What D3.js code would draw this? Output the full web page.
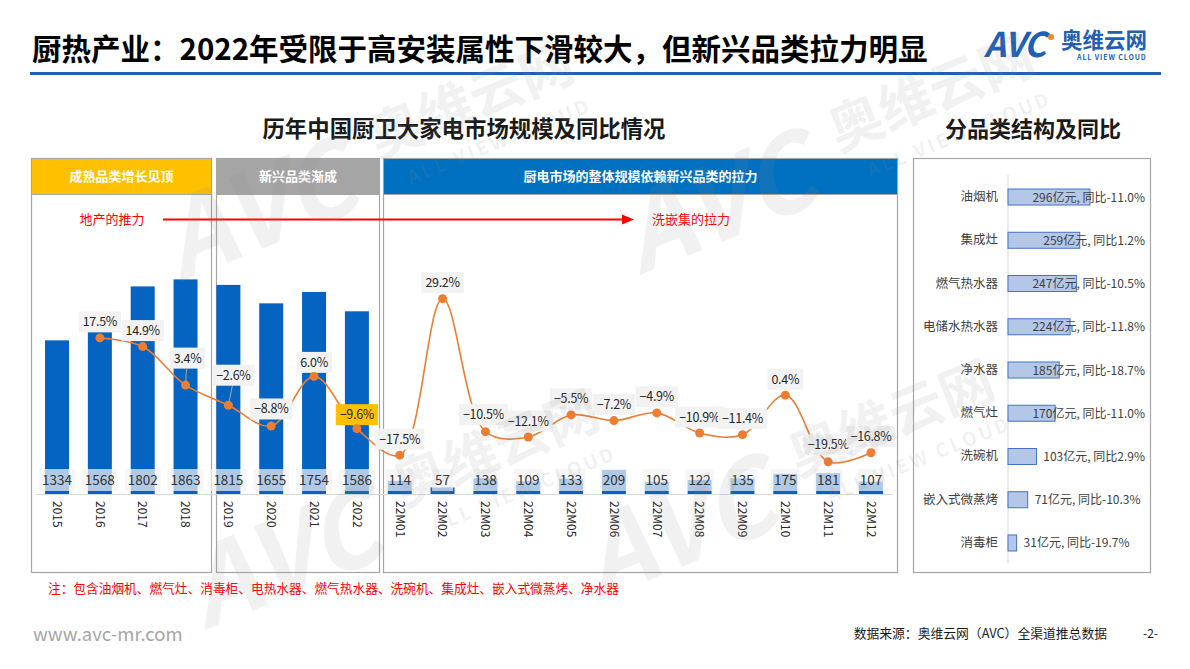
<!DOCTYPE html>
<html>
<head>
<meta charset="utf-8">
<script src="https://cdn.jsdelivr.net/npm/d3@7/dist/d3.min.js"></script>
<style>
  html, body { margin: 0; padding: 0; background: #fff; }
  svg { display: block; }
  text { font-family: "Noto Sans CJK SC", "Noto Sans", sans-serif; }
</style>
</head>
<body>
<svg id="chart" width="1190" height="669"></svg>
<script>
// ---------------- DATA ----------------
const categories = ["2015","2016","2017","2018","2019","2020","2021","2022",
  "22M01","22M02","22M03","22M04","22M05","22M06","22M07","22M08","22M09","22M10","22M11","22M12"];
const marketSize = [1334,1568,1802,1863,1815,1655,1754,1586,
  114,57,138,109,133,209,105,122,135,175,181,107];
const growthRate = [null,17.5,14.9,3.4,-2.6,-8.8,6.0,-9.6,
  -17.5,29.2,-10.5,-12.1,-5.5,-7.2,-4.9,-10.9,-11.4,0.4,-19.5,-16.8];

const productCategories = ["油烟机","集成灶","燃气热水器","电储水热水器","净水器","燃气灶","洗碗机","嵌入式微蒸烤","消毒柜"];
const productSize = [296,259,247,224,185,170,103,71,31];
const productGrowth = [-11.0,1.2,-10.5,-11.8,-18.7,-11.0,2.9,-10.3,-19.7];

const panelHeaders = ["成熟品类增长见顶","新兴品类渐成","厨电市场的整体规模依赖新兴品类的拉力"];
const noteText = "注：包含油烟机、燃气灶、消毒柜、电热水器、燃气热水器、洗碗机、集成灶、嵌入式微蒸烤、净水器";

// ---------------- DRAW ----------------
const svg = d3.select("#chart");
const BLUE = "#0563C1", ORANGE = "#ED7D31";

// Watermarks (drawn first, faint)
const wmLayer = svg.append("g");

// Title
svg.append("text").attr("x", 32).attr("y", 60)
  .attr("font-size", 29.5).attr("font-weight", 700).attr("fill", "#000")
  .text("厨热产业：2022年受限于高安装属性下滑较大，但新兴品类拉力明显");
svg.append("rect").attr("x", 30).attr("y", 72).attr("width", 1131).attr("height", 3).attr("fill", "#1F5FB4");

// Logo
const logo = svg.append("g");
logo.append("text").attr("x", 984).attr("y", 57).attr("font-family", "Liberation Sans, Arial")
  .attr("font-size", 34).attr("font-weight", 700).attr("font-style", "italic")
  .attr("fill", "#1F5FB4").attr("letter-spacing", -1).text("AVC");
logo.append("circle").attr("cx", 1051).attr("cy", 37).attr("r", 3).attr("fill", "#F08A24");
logo.append("text").attr("x", 1061).attr("y", 48).attr("font-size", 21.5).attr("font-weight", 700)
  .attr("fill", "#1F5FB4").text("奥维云网");
logo.append("text").attr("x", 1077).attr("y", 60).attr("font-size", 7).attr("font-weight", 700)
  .attr("fill", "#1F5FB4").attr("letter-spacing", 0.9).attr("font-family", "Liberation Sans, Arial")
  .text("ALL VIEW CLOUD");

// Chart titles
svg.append("text").attr("x", 464).attr("y", 137).attr("text-anchor", "middle")
  .attr("font-size", 22.4).attr("font-weight", 700).attr("fill", "#1a1a1a").text("历年中国厨卫大家电市场规模及同比情况");
svg.append("text").attr("x", 1033).attr("y", 137).attr("text-anchor", "middle")
  .attr("font-size", 22).attr("font-weight", 700).attr("fill", "#1a1a1a").text("分品类结构及同比");

// Panels
const panels = [
  {x0: 31.5, x1: 211.5, fill: "#FFC000"},
  {x0: 216.5, x1: 379.5, fill: "#A5A5A5"},
  {x0: 383.5, x1: 897.5, fill: "#0070C0"}
];
panels.forEach((p, i) => {
  svg.append("rect").attr("x", p.x0).attr("y", 158.5).attr("width", p.x1 - p.x0).attr("height", 414)
    .attr("fill", "none").attr("stroke", "#A6A6A6").attr("stroke-width", 1.2);
  svg.append("rect").attr("x", p.x0).attr("y", 158.5).attr("width", p.x1 - p.x0).attr("height", 36)
    .attr("fill", p.fill).attr("stroke", "#A6A6A6").attr("stroke-width", 1);
  svg.append("text").attr("x", (p.x0 + p.x1) / 2).attr("y", 181).attr("text-anchor", "middle")
    .attr("font-size", 13).attr("font-weight", 700).attr("fill", "#fff").text(panelHeaders[i]);
});
svg.append("rect").attr("x", 913.5).attr("y", 158.5).attr("width", 237).attr("height", 414)
  .attr("fill", "none").attr("stroke", "#A6A6A6").attr("stroke-width", 1.2);

// Scales for main chart
const x = d3.scaleBand().domain(categories).range([35.6, 892.4]).paddingInner(0.44).paddingOuter(0.22);
const yBar = d3.scaleLinear().domain([0, 2000]).range([494, 263.6]);
const yPct = d3.scaleLinear().domain([-20, 30]).range([463.5, 296]);
const cx = d => x(d) + x.bandwidth() / 2;

const rows = categories.map((c, i) => ({c, v: marketSize[i], g: growthRate[i]}));

// Bars
svg.append("g").selectAll("rect").data(rows).join("rect")
  .attr("x", d => x(d.c)).attr("width", x.bandwidth())
  .attr("y", d => yBar(d.v)).attr("height", d => yBar(0) - yBar(d.v))
  .attr("fill", BLUE);

// Axis
const xAxis = d3.axisBottom(x).tickSize(0).tickPadding(0);
const ax = svg.append("g").attr("transform", `translate(0,${yBar(0)})`).call(xAxis);
ax.select(".domain").attr("stroke", "#D9D9D9").attr("stroke-width", 1.2);
ax.selectAll(".tick text")
  .attr("transform", "rotate(90)").attr("x", 7).attr("y", 0).attr("dy", "0.35em")
  .attr("text-anchor", "start").attr("font-size", 12)
  .attr("font-family", "Liberation Sans, Arial").attr("fill", "#262626");

// Bar value labels
const valG = svg.append("g");
rows.forEach(d => {
  const t = valG.append("text").attr("x", cx(d.c)).attr("y", 485)
    .attr("text-anchor", "middle").attr("font-size", 13.5).attr("font-family", "Liberation Sans, Arial")
    .attr("fill", "#333").text(d.v);
  const w = t.node().getComputedTextLength();
  valG.insert("rect", "text").attr("x", cx(d.c) - w / 2 - 3).attr("y", 469).attr("width", w + 6).attr("height", 22)
    .attr("fill", "#F2F2F2").attr("fill-opacity", 0.72);
});

// Red arrow and annotations
svg.append("line").attr("x1", 163).attr("x2", 624).attr("y1", 219.5).attr("y2", 219.5)
  .attr("stroke", "#FF0000").attr("stroke-width", 2);
svg.append("path").attr("d", "M622,214.5 L634,219.5 L622,224.5 Z").attr("fill", "#FF0000");
svg.append("text").attr("x", 112).attr("y", 224).attr("text-anchor", "middle")
  .attr("font-size", 13).attr("fill", "#FF0000").text("地产的推力");
svg.append("text").attr("x", 652).attr("y", 224)
  .attr("font-size", 13).attr("fill", "#FF0000").text("洗嵌集的拉力");

// Growth line
const line = d3.line().defined(d => d.g !== null)
  .x(d => cx(d.c)).y(d => yPct(d.g)).curve(d3.curveCatmullRom.alpha(0.5));
svg.append("path").datum(rows).attr("d", line)
  .attr("fill", "none").attr("stroke", ORANGE).attr("stroke-width", 1.6);

const pts = rows.filter(d => d.g !== null);
// label layout adjustments (not data)
const labelShift = {"2018": [2, -27], "2019": [5, -30], "2021": [0, -14], "2022": [0, -14], "2020": [0, -17], "22M03": [-2, -17], "22M11": [0, -17]};
const pctG = svg.append("g");
pts.forEach(d => {
  const [dx, dy] = labelShift[d.c] || [0, -16];
  const lx = cx(d.c) + dx, ly = yPct(d.g) + dy;
  const g = pctG.append("g");
  const t = g.append("text").attr("x", lx).attr("y", ly + 4.5).attr("text-anchor", "middle")
    .attr("font-size", 12.5).attr("font-family", "DejaVu Sans Mono, monospace").attr("fill", "#262626")
    .attr("letter-spacing", -0.3)
    .text(d.g.toFixed(1).replace("-", "−") + "%");
  const w = t.node().getComputedTextLength();
  g.insert("rect", "text").attr("x", lx - w / 2 - 4).attr("y", ly - 10.5).attr("width", w + 8).attr("height", 21)
    .attr("fill", d.c === "2022" ? "#FFC000" : "#F2F2F2");
  if (dy < -20) {
    pctG.insert("line", "g").attr("x1", lx - 1).attr("y1", ly + 10.5).attr("x2", cx(d.c)).attr("y2", yPct(d.g))
      .attr("stroke", "#A6A6A6").attr("stroke-width", 1);
  }
});
svg.append("g").selectAll("circle").data(pts).join("circle")
  .attr("cx", d => cx(d.c)).attr("cy", d => yPct(d.g)).attr("r", 4.5).attr("fill", ORANGE);

// ---------------- Right chart ----------------
const yH = d3.scaleBand().domain(productCategories).range([175.4, 564.6]).paddingInner(0.63).paddingOuter(0.315);
const xH = d3.scaleLinear().domain([0, 296]).range([1008, 1090]);
const prow = productCategories.map((c, i) => ({c, v: productSize[i], g: productGrowth[i]}));

svg.append("line").attr("x1", 1008).attr("x2", 1008).attr("y1", 175).attr("y2", 563)
  .attr("stroke", "#D9D9D9").attr("stroke-width", 1);
svg.append("g").selectAll("rect").data(prow).join("rect")
  .attr("x", xH(0)).attr("y", d => yH(d.c)).attr("width", d => xH(d.v) - xH(0)).attr("height", yH.bandwidth())
  .attr("fill", "#B4C7E7").attr("stroke", "#4472C4").attr("stroke-width", 1);
const yAxisR = d3.axisLeft(yH).tickSize(0).tickPadding(10);
const ayr = svg.append("g").attr("transform", "translate(1008,0)").call(yAxisR);
ayr.select(".domain").remove();
ayr.selectAll(".tick text").attr("font-size", 12.5).attr("fill", "#404040")
  .attr("font-family", "Noto Sans CJK SC, sans-serif");

const vlG = svg.append("g");
prow.forEach(d => {
  const t = vlG.append("text").attr("y", yH(d.c) + yH.bandwidth() / 2 + 4.5)
    .attr("font-size", 12).attr("fill", "#404040")
    .text(`${d.v}亿元, 同比${d.g.toFixed(1)}%`);
  const w = t.node().getComputedTextLength();
  t.attr("x", Math.min(xH(d.v) + 7, 1145 - w));
});

// ---------------- Footer ----------------
svg.append("text").attr("x", 48).attr("y", 593).attr("font-size", 12.7).attr("fill", "#FF0000").text(noteText);
svg.append("text").attr("x", 33).attr("y", 641).attr("font-size", 18.5).attr("fill", "#A6A6A6")
  .attr("font-family", "Liberation Sans, Arial").text("www.avc-mr.com");
svg.append("text").attr("x", 1107).attr("y", 638).attr("text-anchor", "end").attr("font-size", 12.8)
  .attr("fill", "#1a1a1a").text("数据来源：奥维云网（AVC）全渠道推总数据");
svg.append("text").attr("x", 1143).attr("y", 638).attr("font-size", 12)
  .attr("fill", "#1a1a1a").text("-2-");

// ---------------- Watermarks (on top, very faint) ----------------
const wm = [[180, 282], [640, 275], [205, 630], [600, 600]];
wm.forEach(([wx, wy]) => {
  const g = svg.append("g").attr("transform", `translate(${wx},${wy}) rotate(-22)`)
    .attr("fill", "#8c8c8c").attr("fill-opacity", 0.12).attr("pointer-events", "none");
  g.append("text").attr("x", 0).attr("y", 0).attr("font-size", 105).attr("font-weight", 700)
    .attr("font-style", "italic").attr("font-family", "Liberation Sans, Arial").text("AVC");
  g.append("text").attr("x", 230).attr("y", -40).attr("font-size", 54).attr("font-weight", 700).text("奥维云网");
  g.append("text").attr("x", 250).attr("y", -4).attr("font-size", 19).attr("font-weight", 700)
    .attr("letter-spacing", 3).attr("font-family", "Liberation Sans, Arial").text("ALL VIEW CLOUD");
});
</script>
</body>
</html>
